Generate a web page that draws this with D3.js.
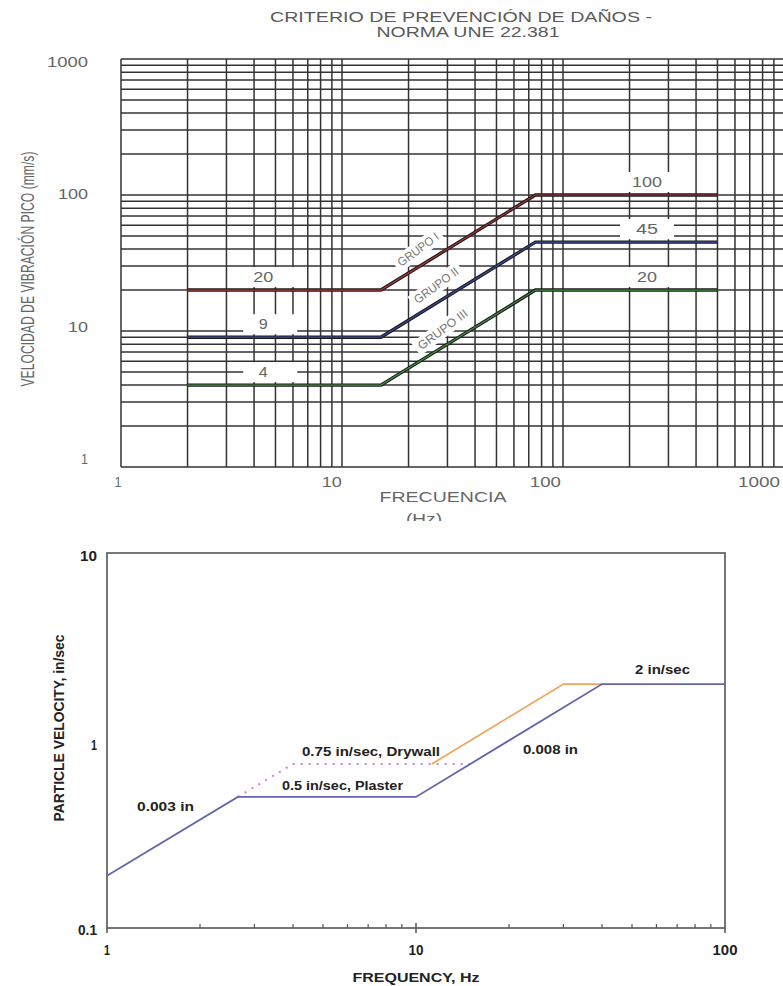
<!DOCTYPE html>
<html><head><meta charset="utf-8">
<script src="https://cdn.jsdelivr.net/npm/d3@7"></script>
<style>body{margin:0;background:#fff}svg{display:block}</style>
</head><body><svg id="c" width="783" height="986"></svg>
<script>
// ---------- DATA: top chart (UNE 22.381) ----------
const topTitle = ["CRITERIO DE PREVENCIÓN DE DAÑOS -", "NORMA UNE 22.381"];
const topTicks = [1, 10, 100, 1000];
const topTickLabels = ["1", "10", "100", "1000"];
const topXLabel = ["FRECUENCIA", "(Hz)"];
const topYLabel = "VELOCIDAD DE VIBRACIÓN PICO (mm/s)";
const grupoNames = ["GRUPO I", "GRUPO II", "GRUPO III"];
const grupoColors = ["#b03636", "#3a4aa0", "#3f8c3f"];
const grupoFreq = [2, 15, 75, 500];
const grupoI = [20, 20, 100, 100];
const grupoII = [9, 9, 45, 45];
const grupoIII = [4, 4, 20, 20];
const grupoLowLabels = ["20", "9", "4"];
const grupoHighLabels = ["100", "45", "20"];
const grupoLabelFreq = [24, 29, 31];

// ---------- DATA: bottom chart (USBM) ----------
const botTicksX = [1, 10, 100];
const botTicksY = [0.1, 1, 10];
const botTickLabelsX = ["1", "10", "100"];
const botTickLabelsY = ["0.1", "1", "10"];
const botXLabel = "FREQUENCY, Hz";
const botYLabel = "PARTICLE VELOCITY, in/sec";
const plasterFreq = [1, 2.65, 10, 40, 100];
const plasterVel = [0.19, 0.5, 0.5, 2, 2];
const drywallFreq = [11.25, 30, 40];
const drywallVel = [0.75, 2, 2];
const dottedFreq = [2.65, 4, 15];
const dottedVel = [0.5, 0.75, 0.75];
const botAnnotations = ["0.003 in", "0.5 in/sec, Plaster", "0.75 in/sec, Drywall", "0.008 in", "2 in/sec"];

const svg = d3.select("#c");
const FONT = "'Liberation Sans', Arial, sans-serif";

// ====================== TOP CHART ======================
const tx = d3.scaleLog().domain([1, 1000]).range([121, 784]);
const ty = d3.scaleLog().domain([1, 1000]).range([467, 59]);
const txLab = d3.scaleLog().domain([1, 1000]).range([118, 759]);
const tyLab = d3.scaleLog().domain([1, 1000]).range([459, 62]);

const topG = svg.append("g");
const gridVals = [];
[1, 10, 100].forEach(d => { for (let k = 1; k <= 9; k++) gridVals.push(k * d); });
gridVals.push(1000);

const gridG = topG.append("g").attr("stroke", "#333").attr("stroke-width", 1.5);
gridG.selectAll("line.v").data(gridVals).join("line").attr("class", "v")
  .attr("x1", d => tx(d)).attr("x2", d => tx(d)).attr("y1", ty(1000)).attr("y2", ty(1));
gridG.selectAll("line.h").data(gridVals).join("line").attr("class", "h")
  .attr("x1", tx(1)).attr("x2", tx(1000)).attr("y1", d => ty(d)).attr("y2", d => ty(d));

// title
topG.append("g").selectAll("text").data(topTitle).join("text")
  .attr("x", (d, i) => [461, 468][i]).attr("y", (d, i) => [22, 37][i])
  .attr("text-anchor", "middle").attr("font-family", FONT).attr("font-size", 14)
  .attr("fill", "#5a5a5a").attr("textLength", (d, i) => [382, 183][i])
  .attr("lengthAdjust", "spacingAndGlyphs").text(d => d);

// tick labels
topG.append("g").selectAll("text").data(topTicks).join("text")
  .attr("x", d => txLab(d)).attr("y", 482).attr("dominant-baseline", "central")
  .attr("text-anchor", "middle").attr("font-family", FONT).attr("font-size", 14).attr("fill", "#666")
  .attr("textLength", (d, i) => [7, 20, 31, 42][i]).attr("lengthAdjust", "spacingAndGlyphs")
  .text((d, i) => topTickLabels[i]);
topG.append("g").selectAll("text").data(topTicks).join("text")
  .attr("x", 88).attr("y", d => tyLab(d)).attr("dominant-baseline", "central")
  .attr("text-anchor", "end").attr("font-family", FONT).attr("font-size", 14).attr("fill", "#666")
  .attr("textLength", (d, i) => [7, 20, 30, 41][i]).attr("lengthAdjust", "spacingAndGlyphs")
  .text((d, i) => topTickLabels[i]);

// axis labels
topG.append("text").attr("x", 443).attr("y", 502).attr("text-anchor", "middle")
  .attr("font-family", FONT).attr("font-size", 15).attr("fill", "#666")
  .attr("textLength", 127).attr("lengthAdjust", "spacingAndGlyphs").text(topXLabel[0]);
topG.append("text").attr("x", 424).attr("y", 524).attr("text-anchor", "middle")
  .attr("font-family", FONT).attr("font-size", 14).attr("fill", "#666")
  .attr("textLength", 36).attr("lengthAdjust", "spacingAndGlyphs").text(topXLabel[1]);
topG.append("text").attr("transform", "translate(34,269) rotate(-90)").attr("text-anchor", "middle")
  .attr("font-family", FONT).attr("font-size", 18).attr("fill", "#666")
  .attr("textLength", 235).attr("lengthAdjust", "spacingAndGlyphs").text(topYLabel);

const series = [grupoI, grupoII, grupoIII];
// white boxes for the value labels (they interrupt the grid)
const boxG = topG.append("g").attr("fill", "#fff");
series.forEach((s, i) => {
  const yl = ty(s[0]) - 13, yh = ty(s[2]) - 13;
  boxG.append("rect").attr("x", tx(4.4) - 20).attr("y", yl - 10).attr("width", 54).attr("height", 20);
  boxG.append("rect").attr("x", tx(240) - 27).attr("y", yh - 10).attr("width", 54).attr("height", 20);
});

// slope angle of the line (decade ratio) and of the tilted labels
const ang = Math.atan2(ty(1) - ty(10), tx(10) - tx(1)) * 180 / Math.PI;
const labAng = ang + 5;
const rad = ang * Math.PI / 180;

// group rotated labels with white background
series.forEach((s, i) => {
  const f = grupoLabelFreq[i];
  const v = s[1] * f / grupoFreq[1];
  const px = tx(f) - 15 * Math.sin(rad), py = ty(v) - 15 * Math.cos(rad);
  const g = topG.append("g").attr("transform", `translate(${px},${py}) rotate(${-labAng})`);
  const w = [48, 52, 59][i];
  g.append("rect").attr("x", -w / 2 - 4).attr("y", -8).attr("width", w + 8).attr("height", 16).attr("fill", "#fff");
  g.append("text").attr("x", 0).attr("y", 0).attr("dominant-baseline", "central").attr("text-anchor", "middle")
    .attr("font-family", FONT).attr("font-size", 12).attr("fill", "#777")
    .attr("textLength", w).attr("lengthAdjust", "spacingAndGlyphs").text(grupoNames[i]);
});

// series lines
const tline = d3.line().x(d => tx(d[0])).y(d => ty(d[1]));
series.forEach((s, i) => {
  const pts = grupoFreq.map((f, j) => [f, s[j]]);
  topG.append("path").attr("d", tline(pts)).attr("fill", "none").attr("stroke", "#1a1a1a").attr("stroke-width", 3.4);
  topG.append("path").attr("d", tline(pts)).attr("fill", "none").attr("stroke", grupoColors[i]).attr("stroke-width", 1.2);
});

// value labels
const vlG = topG.append("g").attr("font-family", FONT).attr("font-size", 14).attr("fill", "#666").attr("text-anchor", "middle");
series.forEach((s, i) => {
  vlG.append("text").attr("x", tx(4.4)).attr("y", ty(s[0]) - 13).attr("dominant-baseline", "central")
    .attr("textLength", [20, 9, 9][i]).attr("lengthAdjust", "spacingAndGlyphs").text(grupoLowLabels[i]);
  vlG.append("text").attr("x", tx(240)).attr("y", ty(s[2]) - 13).attr("dominant-baseline", "central")
    .attr("textLength", [30, 22, 20][i]).attr("lengthAdjust", "spacingAndGlyphs").text(grupoHighLabels[i]);
});

// crop of the top picture (the "(Hz)" label is cut)
svg.append("rect").attr("x", 0).attr("y", 521).attr("width", 783).attr("height", 465).attr("fill", "#fff");

// ====================== BOTTOM CHART ======================
const bx = d3.scaleLog().domain([1, 100]).range([107, 725]);
const by = d3.scaleLog().domain([0.1, 10]).range([928, 553]);
const bot = svg.append("g");

// minor ticks (inside, bottom axis)
const minor = [];
[1, 10].forEach(d => { for (let k = 2; k <= 9; k++) minor.push(k * d); });
bot.append("g").attr("stroke", "#555").attr("stroke-width", 1.2).selectAll("line").data(minor).join("line")
  .attr("x1", d => bx(d)).attr("x2", d => bx(d)).attr("y1", by(0.1)).attr("y2", by(0.1) - 4);
bot.append("g").attr("stroke", "#555").attr("stroke-width", 1.5).selectAll("line").data(botTicksX).join("line")
  .attr("x1", d => bx(d)).attr("x2", d => bx(d)).attr("y1", by(0.1) + 5).attr("y2", d => d === 10 ? by(0.1) - 5 : by(0.1));

// frame
bot.append("rect").attr("x", bx(1)).attr("y", by(10)).attr("width", bx(100) - bx(1)).attr("height", by(0.1) - by(10))
  .attr("fill", "none").attr("stroke", "#555").attr("stroke-width", 1.6);

const bline = d3.line().x(d => bx(d[0])).y(d => by(d[1]));
bot.append("path").attr("d", bline(dottedFreq.map((f, i) => [f, dottedVel[i]])))
  .attr("fill", "none").attr("stroke", "#d77fd7").attr("stroke-width", 2).attr("stroke-dasharray", "2,6");
bot.append("path").attr("d", bline(drywallFreq.map((f, i) => [f, drywallVel[i]])))
  .attr("fill", "none").attr("stroke", "#f0a55a").attr("stroke-width", 1.8);
bot.append("path").attr("d", bline(plasterFreq.map((f, i) => [f, plasterVel[i]])))
  .attr("fill", "none").attr("stroke", "#6464ac").attr("stroke-width", 1.8);

const BF = { "font-family": FONT, "font-weight": "bold", "fill": "#222" };
function btext(x, y, t, size, len, anchor) {
  const e = bot.append("text").attr("x", x).attr("y", y).attr("dominant-baseline", "central")
    .attr("text-anchor", anchor || "start").attr("font-size", size)
    .attr("textLength", len).attr("lengthAdjust", "spacingAndGlyphs").text(t);
  Object.entries(BF).forEach(([k, v]) => e.attr(k, v));
  return e;
}
// tick labels
botTicksX.forEach((d, i) => btext(bx(d), 950, botTickLabelsX[i], 14, [6, 15, 25][i], "middle"));
botTicksY.forEach((d, i) => btext(97, by(d) + [2, 4, 3][i], botTickLabelsY[i], 14, [19, 6, 17][i], "end"));
// annotations
btext(137, 806, botAnnotations[0], 13, 57);
btext(282, 785, botAnnotations[1], 13, 121);
btext(302, 751, botAnnotations[2], 13, 138);
btext(523, 749, botAnnotations[3], 13, 55);
btext(635, 669, botAnnotations[4], 13, 55);
// axis titles
btext(416, 977, botXLabel, 13, 127, "middle");
bot.append("text").attr("transform", "translate(59,728) rotate(-90)").attr("text-anchor", "middle")
  .attr("dominant-baseline", "central").attr("font-family", FONT).attr("font-weight", "bold").attr("fill", "#222")
  .attr("font-size", 14).attr("textLength", 187).attr("lengthAdjust", "spacingAndGlyphs").text(botYLabel);
</script></body></html>
